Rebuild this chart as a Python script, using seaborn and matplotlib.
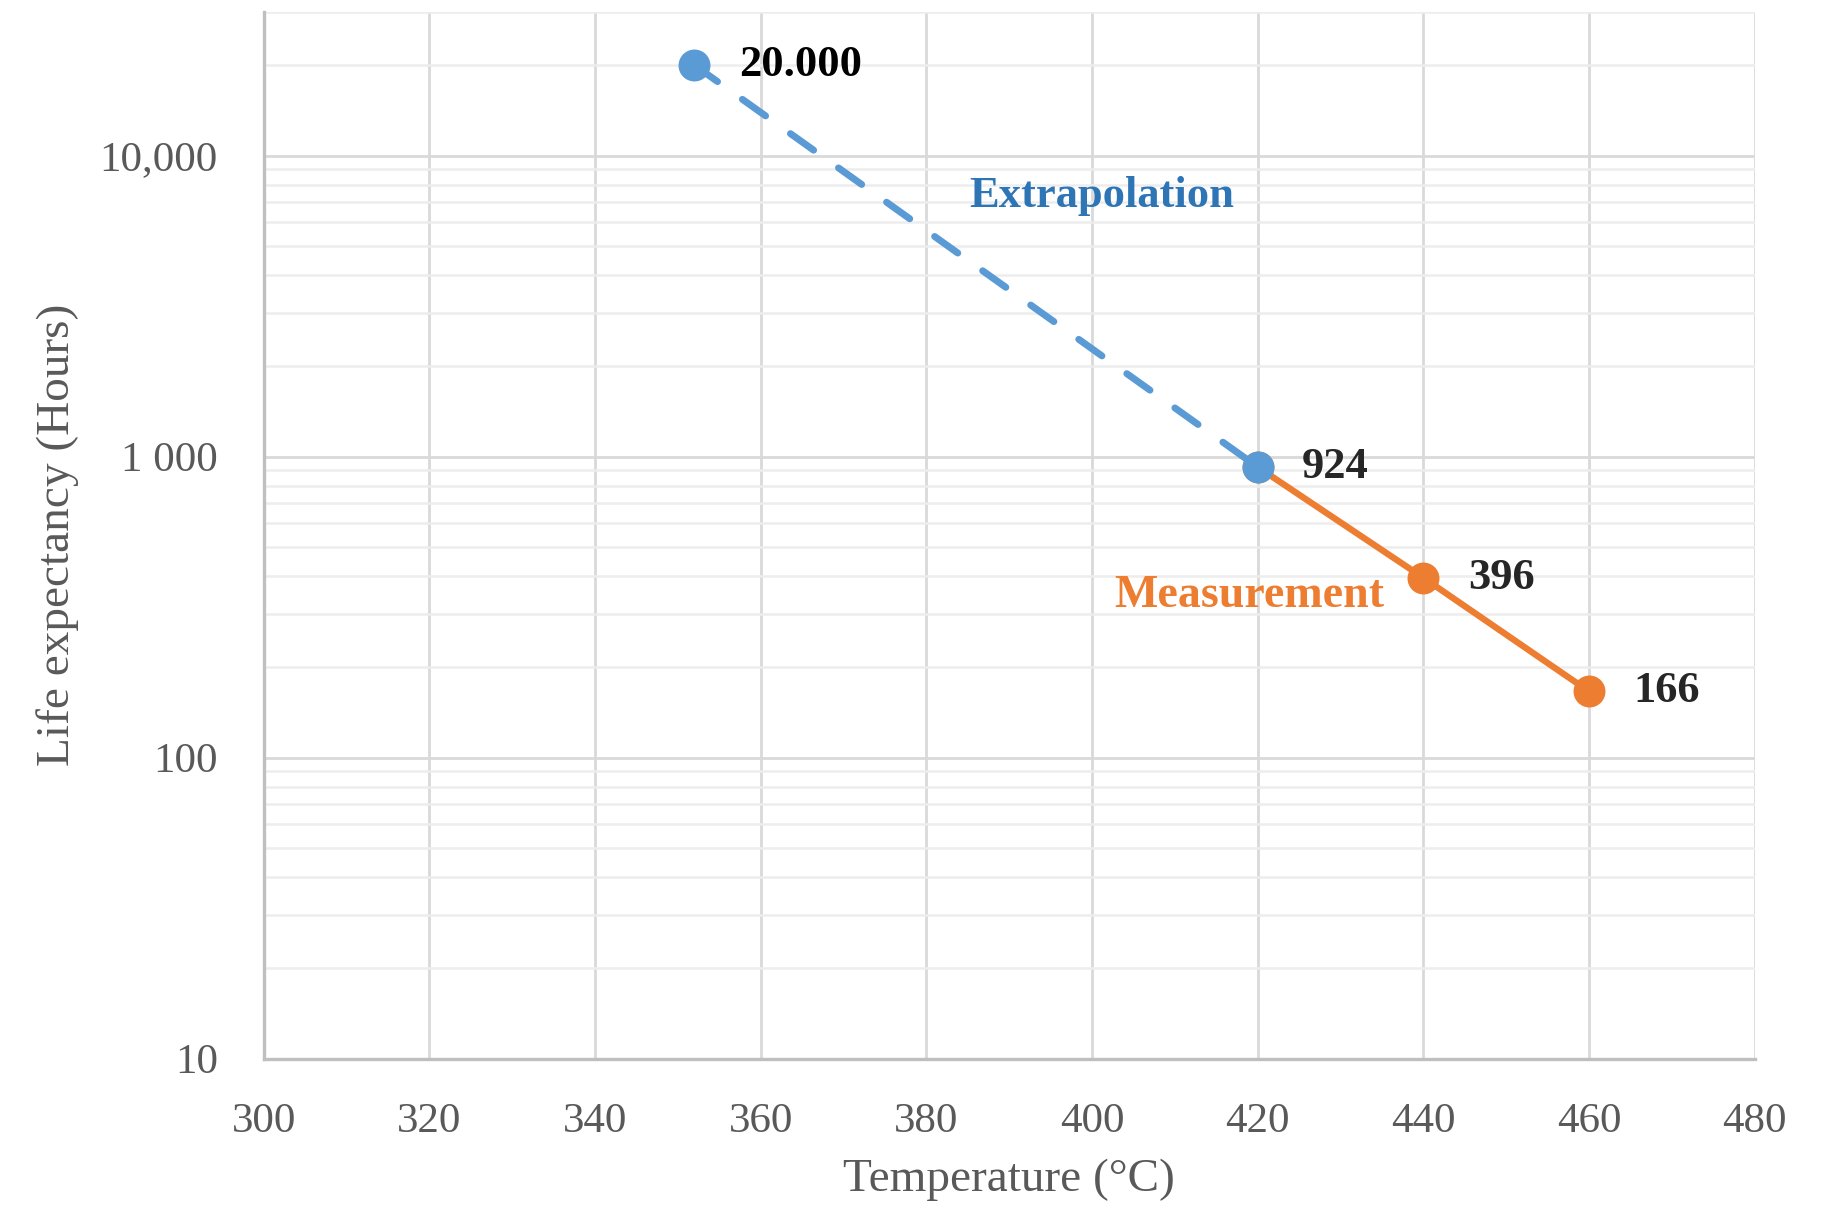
import numpy as np
import pandas as pd
import matplotlib
matplotlib.use("Agg")
import matplotlib.pyplot as plt
import seaborn as sns
from matplotlib.ticker import FixedLocator, FixedFormatter, MultipleLocator, NullFormatter

# Values
extra_temp = [352, 420]
extra_life = [20000, 924]
meas_temp = [420, 440, 460]
meas_life = [924, 396, 166]
label_temp = [352, 420, 440, 460]
label_life = [20000, 924, 396, 166]
label_text = ["20.000", "924", "396", "166"]

x_ticks = [300, 320, 340, 360, 380, 400, 420, 440, 460, 480]
y_ticks = [10, 100, 1000, 10000]
y_tick_labels = ["10", "100", "1 000", "10,000"]

blue = "#5B9BD5"
orange = "#ED7D31"
grid_col = "#D9D9D9"
axis_col = "#BFBFBF"
text_gray = "#595959"

sns.set_theme(style="white")
plt.rcParams['font.family'] = ['Liberation Serif', 'DejaVu Serif']

extra = pd.DataFrame({'Temperature': extra_temp, 'Life': extra_life})
meas = pd.DataFrame({'Temperature': meas_temp, 'Life': meas_life})

fig, ax = plt.subplots(figsize=(18.22, 12.07), dpi=100)
fig.subplots_adjust(left=0.1447, right=0.963, top=0.990, bottom=0.123)

ax.set_yscale('log')
ax.set_xlim(300, 480)
ax.set_ylim(10, 30000)

# measured segment
sns.lineplot(data=meas, x='Temperature', y='Life', ax=ax, color=orange,
             linewidth=4.6, marker='o', markersize=23, markeredgewidth=0,
             zorder=3)
# extrapolated segment
sns.lineplot(data=extra, x='Temperature', y='Life', ax=ax, color=blue,
             linewidth=5.0, linestyle=(0, (4.1, 4.4)), dash_capstyle='round',
             marker='o', markersize=23, markeredgewidth=0, zorder=4)

# point labels
for t, v, s in zip(label_temp, label_life, label_text):
    col = 'black' if s == "20.000" else '#262626'
    ax.annotate(s, (t, v), xytext=(32, 0), textcoords='offset points',
                ha='left', va='center', fontsize=32, fontweight='bold',
                color=col)

ax.text(401.2, 7330, "Extrapolation", ha='center', va='center',
        fontsize=32, fontweight='bold', color='#2E75B6')
ax.text(419.0, 344, "Measurement", ha='center', va='center',
        fontsize=33, fontweight='bold', color=orange)

# axes / ticks
ax.xaxis.set_major_locator(FixedLocator(x_ticks))
ax.xaxis.set_minor_locator(MultipleLocator(4))
ax.yaxis.set_major_locator(FixedLocator(y_ticks))
ax.yaxis.set_major_formatter(FixedFormatter(y_tick_labels))
minor_y = [m * 10 ** e for e in range(1, 5) for m in range(2, 10) if m * 10 ** e <= 30000]
ax.yaxis.set_minor_locator(FixedLocator(minor_y))
ax.yaxis.set_minor_formatter(NullFormatter())

ax.grid(True, which='major', axis='both', color=grid_col, linewidth=2.0, zorder=0)
ax.grid(True, which='minor', axis='y', color='#EDEDED', linewidth=1.8, zorder=0)
ax.set_axisbelow(True)

for side in ['top', 'right']:
    ax.spines[side].set_visible(False)
for side in ['left', 'bottom']:
    ax.spines[side].set_color(axis_col)
    ax.spines[side].set_linewidth(2.4)

ax.tick_params(axis='x', which='major', direction='out', length=11, width=2.0,
               color=axis_col, labelsize=31, labelcolor=text_gray, pad=21)
ax.tick_params(axis='x', which='minor', direction='out', length=7, width=2.0,
               color=axis_col)
ax.tick_params(axis='y', which='major', direction='out', length=10, width=2.0,
               color=axis_col, labelsize=31, labelcolor=text_gray, pad=23)
ax.tick_params(axis='y', which='minor', direction='out', length=6, width=2.0,
               color=axis_col)

ax.set_xlabel("Temperature (°C)", fontsize=34, color=text_gray, labelpad=12)
ax.set_ylabel("Life expectancy (Hours)", fontsize=34, color=text_gray, labelpad=15)

fig.savefig("out.png", dpi=100)
